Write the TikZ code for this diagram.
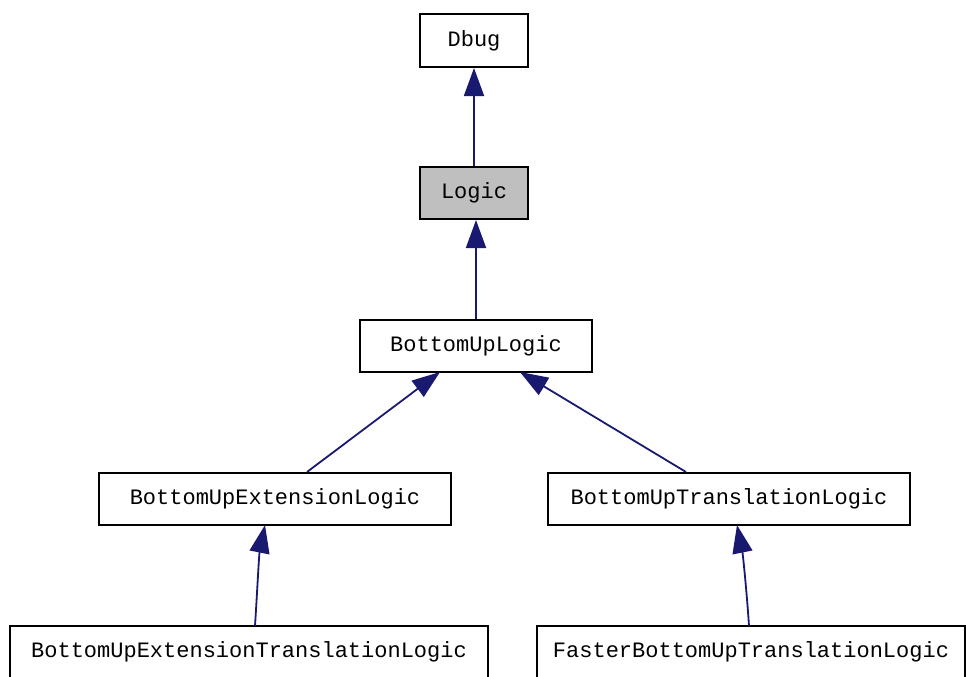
\documentclass[tikz,border=0pt]{standalone}
\usepackage{fontspec}
\setmonofont{Liberation Mono}
\usetikzlibrary{arrows.meta}
\definecolor{edgeblue}{HTML}{191970}
\definecolor{boxgray}{HTML}{BFBFBF}
\tikzset{
  cls/.style={draw=black, line width=2pt, rectangle, inner sep=0pt, fill=white,
    font=\ttfamily\fontsize{22}{26}\selectfont, text=black},
  inh/.style={draw=edgeblue, line width=1.8pt,
    {Triangle[length=28pt,width=20pt,fill=edgeblue]}-},
}
\begin{document}
\begin{tikzpicture}[x=1pt,y=-1pt]
\useasboundingbox (0,0) rectangle (966,677);
\node[cls, minimum width=108pt, minimum height=53pt] (dbug) at (474,40.5) {Dbug};
\node[cls, fill=boxgray, minimum width=108pt, minimum height=52pt] (logic) at (474,193) {Logic};
\node[cls, minimum width=232pt, minimum height=52pt] (bul) at (476,346) {BottomUpLogic};
\node[cls, minimum width=352pt, minimum height=52pt] (bue) at (275,499) {BottomUpExtensionLogic};
\node[cls, minimum width=362pt, minimum height=52pt] (but) at (729,499) {BottomUpTranslationLogic};
\node[cls, minimum width=478pt, minimum height=52pt] (buet) at (249,652) {BottomUpExtensionTranslationLogic};
\node[cls, minimum width=428pt, minimum height=52pt] (fbut) at (751,652) {FasterBottomUpTranslationLogic};
\coordinate (c1) at (307,473);
\coordinate (c2) at (686,473);
\draw[inh] (dbug.south) -- (logic.north);
\draw[inh] (logic.south -| bul.north) -- (bul.north);
\draw[inh] (440,372) -- (bue.north -| c1);
\draw[inh] (520,372) -- (but.north -| c2);
\draw[inh] (265,525) .. controls (259,555) and (257,595) .. (255,626);
\draw[inh] (737,525) .. controls (743,555) and (747,595) .. (749,626);
\end{tikzpicture}
\end{document}
